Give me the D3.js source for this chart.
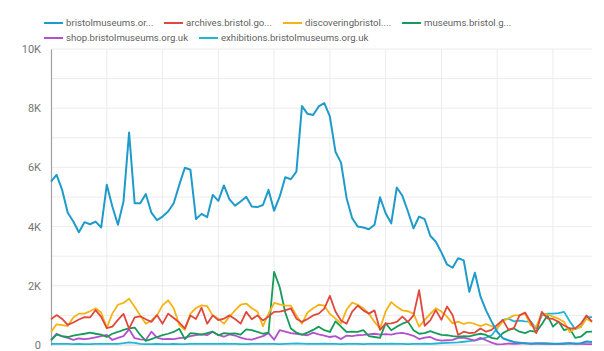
<!DOCTYPE html>
<html>
<head>
<meta charset="utf-8">
<script src="https://cdn.jsdelivr.net/npm/d3@7"></script>
<style>
  body { margin: 0; background: #fff; font-family: Roboto, "Noto Sans", sans-serif; }
</style>
</head>
<body>
<script>
// legend names, shortened as in the chart
const hosts = ["bristolmuseums.or...", "archives.bristol.go...", "discoveringbristol....", "museums.bristol.g...",
    "shop.bristolmuseums.org.uk", "exhibitions.bristolmuseums.org.uk"];
const colors = ["#1f9bcb", "#e0483d", "#f5b316", "#169c58", "#b550cc", "#1fb7d5"];

const bristolmuseums = [5520, 5750, 5240, 4470, 4170, 3810, 4150, 4080, 4170, 3970,
    5410, 4680, 4060, 4850, 7180, 4790, 4790, 5100, 4470, 4220,
    4340, 4510, 4790, 5410, 5990, 5920, 4260, 4430, 4320, 5070,
    4870, 5390, 4920, 4710, 4850, 5010, 4680, 4660, 4730, 5240,
    4540, 5010, 5670, 5600, 5860, 8070, 7810, 7770, 8060, 8170,
    7720, 6530, 6160, 4960, 4280, 4000, 3970, 3910, 4060, 4990,
    4450, 4110, 5320, 5040, 4510, 3940, 4340, 4250, 3690, 3490,
    3130, 2720, 2610, 2930, 2860, 1800, 2440, 1640, 1170, 790,
    450, 230, 160, 100, 80, 60, 50, 50, 40, 40,
    40, 40, 40, 50, 50, 60, 120, 100];
const archives = [870, 1010, 880, 680, 760, 860, 940, 930, 1180, 950,
    570, 620, 850, 1050, 550, 930, 970, 870, 780, 1010,
    720, 1060, 910, 760, 560, 1000, 880, 1260, 720, 1000,
    840, 890, 1000, 880, 720, 1120, 870, 1000, 830, 960,
    1120, 1130, 1170, 1240, 890, 780, 880, 1000, 1060, 1230,
    1660, 1130, 830, 720, 1130, 1330, 1170, 1060, 1170, 510,
    720, 730, 780, 960, 780, 1000, 1850, 650, 830, 1180,
    850, 1300, 1010, 340, 450, 400, 420, 560, 450, 510,
    680, 850, 520, 570, 1000, 1100, 780, 400, 1120, 900,
    880, 780, 660, 560, 560, 720, 1000, 790];
const discoveringbristol = [440, 700, 670, 640, 930, 1060, 1060, 1140, 1240, 1100,
    580, 1060, 1360, 1420, 1560, 1290, 1000, 720, 830, 1000,
    1340, 1510, 1240, 680, 510, 1060, 1250, 1340, 1310, 1000,
    890, 720, 960, 1170, 1360, 1400, 1240, 1130, 630, 1060,
    1420, 1370, 1330, 1330, 1000, 720, 1100, 1240, 1360, 1330,
    1050, 890, 720, 1200, 1430, 1360, 1240, 1060, 780, 560,
    1130, 1450, 1290, 1170, 1140, 1060, 620, 850, 1050, 1240,
    1130, 960, 730, 790, 710, 760, 710, 640, 710, 640,
    560, 800, 900, 1000, 1010, 1060, 660, 620, 1060, 1030,
    960, 890, 780, 440, 560, 600, 890, 780];
const museums = [160, 350, 300, 270, 320, 350, 380, 420, 380, 350,
    270, 380, 440, 510, 560, 590, 340, 140, 200, 270,
    330, 380, 440, 550, 200, 400, 380, 350, 400, 450,
    330, 400, 380, 390, 350, 530, 500, 440, 380, 420,
    2470, 1960, 1100, 560, 420, 350, 420, 510, 620, 500,
    440, 800, 620, 440, 450, 440, 500, 300, 270, 240,
    740, 500, 620, 720, 790, 500, 380, 400, 470, 400,
    340, 330, 300, 280, 300, 290, 340, 380, 340, 240,
    210, 400, 500, 560, 450, 400, 480, 440, 700, 1000,
    620, 790, 500, 560, 240, 280, 440, 450];
const shop = [170, 380, 290, 240, 170, 220, 200, 220, 260, 300,
    340, 170, 240, 300, 530, 230, 190, 170, 450, 250,
    200, 210, 200, 230, 250, 300, 330, 360, 330, 450,
    340, 280, 360, 320, 250, 200, 180, 240, 300, 400,
    180, 500, 450, 400, 380, 350, 330, 420, 360, 320,
    270, 300, 200, 320, 300, 330, 340, 360, 380, 350,
    370, 350, 390, 410, 370, 310, 200, 250, 270, 180,
    150, 160, 170, 240, 250, 200, 150, 240, 160, 80,
    20, 30, 50, 40, 50, 60, 40, 50, 60, 50,
    40, 40, 50, 60, 40, 40, 30, 30];
const exhibitions = [40, 40, 35, 35, 30, 35, 30, 30, 35, 40,
    40, 35, 40, 60, 90, 70, 40, 30, 30, 35,
    30, 30, 35, 30, 30, 35, 40, 35, 40, 35,
    40, 45, 40, 35, 30, 30, 35, 40, 35, 40,
    35, 30, 40, 45, 50, 45, 40, 35, 40, 45,
    40, 35, 30, 35, 40, 35, 30, 35, 40, 35,
    40, 45, 40, 35, 30, 35, 40, 45, 40, 50,
    60, 70, 80, 90, 110, 130, 160, 200, 250, 330,
    560, 850, 890, 800, 820, 800, 790, 560, 1000, 1060,
    1060, 1080, 1120, 800, 530, 620, 940, 940];

const yTicks = [0, 2000, 4000, 6000, 8000, 10000];

const series = [bristolmuseums, archives, discoveringbristol, museums, shop, exhibitions];

const width = 604, height = 351;
const margin = {top: 49, right: 12, bottom: 6, left: 51};

const svg = d3.select('body')
    .append('svg')
    .attr('width', width)
    .attr('height', height);

const x = d3.scaleLinear()
    .domain([0, bristolmuseums.length - 1])
    .range([margin.left, width - margin.right]);

const y = d3.scaleLinear()
    .domain([0, 10000])
    .range([height - margin.bottom, margin.top]);

// grid
svg.append('g')
    .selectAll('line')
    .data(d3.range(1000, 10001, 1000))
    .enter()
    .append('line')
    .attr('x1', margin.left)
    .attr('x2', width - margin.right)
    .attr('y1', d => y(d))
    .attr('y2', d => y(d))
    .attr('stroke', '#ececec');

svg.append('g')
    .selectAll('line')
    .data(d3.range(10, bristolmuseums.length, 10))
    .enter()
    .append('line')
    .attr('x1', d => x(d))
    .attr('x2', d => x(d))
    .attr('y1', y(10000))
    .attr('y2', y(0))
    .attr('stroke', '#ececec');

svg.append('line')
    .attr('x1', margin.left)
    .attr('x2', width - margin.right)
    .attr('y1', y(0))
    .attr('y2', y(0))
    .attr('stroke', '#d6d6d6');

const yAxis = d3.axisLeft(y)
    .tickValues(yTicks)
    .tickSize(0)
    .tickPadding(10)
    .tickFormat(d => d === 0 ? '0' : (d / 1000) + 'K');

const ya = svg.append('g')
    .attr('transform', 'translate(' + margin.left + ',0)')
    .call(yAxis);
ya.select('.domain').attr('stroke', '#a0a0a0').attr('stroke-width', 1.2);
ya.selectAll('text')
    .attr('fill', '#757575')
    .style('font-family', 'Roboto, sans-serif')
    .style('font-size', '11px');

const line = d3.line()
    .x((d, i) => x(i))
    .y(d => y(d));

// draw the small ones first, the main site on top
for (let k = series.length - 1; k >= 0; k--) {
    svg.append('path')
        .datum(series[k])
        .attr('fill', 'none')
        .attr('stroke', colors[k])
        .attr('stroke-width', k === 0 ? 2 : 1.8)
        .attr('stroke-linejoin', 'round')
        .attr('d', line);
}

// legend
const legendPos = [[44, 23], [164, 23], [283, 23], [402, 23], [44, 38], [199, 38]];
const legend = svg.append('g')
    .selectAll('g')
    .data(hosts)
    .enter()
    .append('g')
    .attr('transform', (d, i) => 'translate(' + legendPos[i][0] + ',' + legendPos[i][1] + ')');

legend.append('line')
    .attr('x1', 0)
    .attr('x2', 19)
    .attr('stroke', (d, i) => colors[i])
    .attr('stroke-width', 2);

legend.append('text')
    .attr('x', 22)
    .attr('dy', '0.35em')
    .attr('fill', '#5f5f5f')
    .style('font-family', 'Roboto, sans-serif')
    .style('font-size', '9.6px')
    .text(d => d);
</script>
</body>
</html>
